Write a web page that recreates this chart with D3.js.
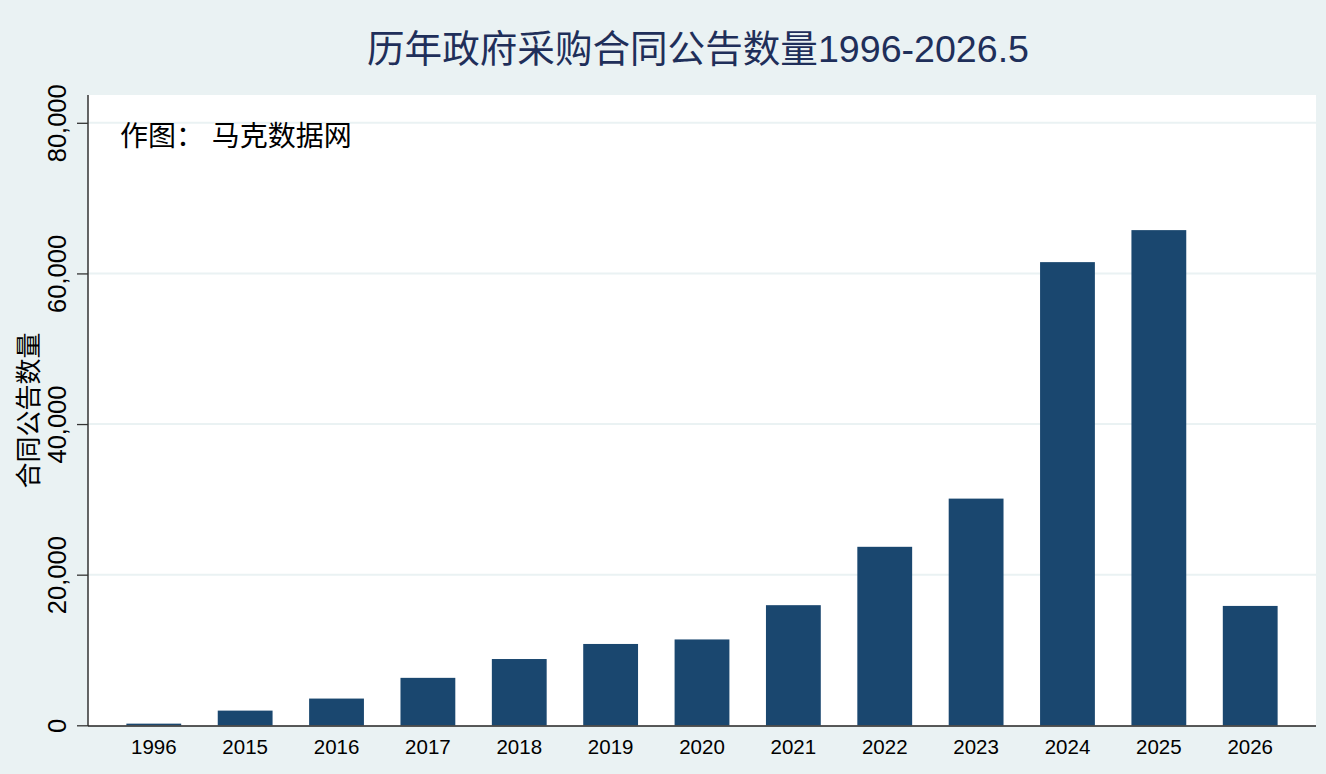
<!DOCTYPE html>
<html>
<head>
<meta charset="utf-8">
<script src="https://cdn.jsdelivr.net/npm/d3@7"></script>
<style>
  html, body { margin: 0; padding: 0; background: #eaf2f3; }
  svg { display: block; font-family: "Liberation Sans", Arial, "Noto Sans CJK SC", sans-serif; }
</style>
</head>
<body>
<div id="vis"></div>
<script>
// data
const YEARS = ["1996", "2015", "2016", "2017", "2018", "2019", "2020", "2021", "2022", "2023", "2024", "2025", "2026"];
const COUNTS = [220, 1950, 3550, 6300, 8800, 10800, 11400, 15950, 23700, 30100, 61500, 65750, 15850];
const Y_TICKS = [0, 20000, 40000, 60000, 80000];

const FRAME_WIDTH = 1326;
const FRAME_HEIGHT = 774;
const PLOT = {left: 88, right: 1316, top: 95, bottom: 726};

const FRAME = d3.select("#vis")
  .append("svg")
  .attr("width", FRAME_WIDTH)
  .attr("height", FRAME_HEIGHT);

// background
FRAME.append("rect")
  .attr("width", FRAME_WIDTH).attr("height", FRAME_HEIGHT)
  .attr("fill", "#eaf2f3");

FRAME.append("rect")
  .attr("x", PLOT.left).attr("y", PLOT.top)
  .attr("width", PLOT.right - PLOT.left).attr("height", PLOT.bottom - PLOT.top)
  .attr("fill", "#ffffff");

// scales
const X_SCALE = d3.scaleBand()
  .domain(YEARS)
  .range([PLOT.left, PLOT.right])
  .paddingInner(0.4)
  .paddingOuter(0.42);

const Y_SCALE = d3.scaleLinear()
  .domain([0, 80000])
  .range([PLOT.bottom - 0.7, 122.8]);

// gridlines
FRAME.append("g")
  .selectAll("line")
  .data(Y_TICKS.filter(d => d > 0))
  .enter().append("line")
  .attr("x1", PLOT.left).attr("x2", PLOT.right)
  .attr("y1", d => Y_SCALE(d)).attr("y2", d => Y_SCALE(d))
  .attr("stroke", "#eaf2f3")
  .attr("stroke-width", 2);

// bars
FRAME.append("g")
  .selectAll("rect")
  .data(YEARS)
  .enter().append("rect")
  .attr("x", d => X_SCALE(d))
  .attr("width", X_SCALE.bandwidth())
  .attr("y", (d, i) => Y_SCALE(COUNTS[i]))
  .attr("height", (d, i) => Y_SCALE(0) - Y_SCALE(COUNTS[i]))
  .attr("fill", "#1a476f");

// y axis
const yAxis = FRAME.append("g")
  .attr("transform", "translate(" + PLOT.left + ",0)")
  .call(d3.axisLeft(Y_SCALE).tickValues(Y_TICKS).tickSize(11).tickSizeOuter(0)
    .tickFormat(d3.format(",")));
yAxis.select(".domain").remove();
yAxis.selectAll(".tick line").attr("stroke", "#333").attr("stroke-width", 1.3);
yAxis.selectAll(".tick text")
  .attr("font-size", "25.5px")
  .attr("fill", "#000")
  .attr("transform", "rotate(-90)")
  .attr("x", 0)
  .attr("y", -22)
  .attr("dy", 0)
  .attr("text-anchor", "middle");

FRAME.append("line")
  .attr("x1", PLOT.left).attr("x2", PLOT.left)
  .attr("y1", PLOT.top).attr("y2", PLOT.bottom)
  .attr("stroke", "#333").attr("stroke-width", 1.5);

// x axis
const xAxis = FRAME.append("g")
  .attr("transform", "translate(0," + PLOT.bottom + ")")
  .call(d3.axisBottom(X_SCALE).tickSize(0));
xAxis.select(".domain").remove();
xAxis.selectAll(".tick text")
  .attr("font-size", "20.5px")
  .attr("y", 28)
  .attr("dy", 0)
  .attr("fill", "#000");

FRAME.append("line")
  .attr("x1", PLOT.left).attr("x2", PLOT.right)
  .attr("y1", PLOT.bottom).attr("y2", PLOT.bottom)
  .attr("stroke", "#222").attr("stroke-width", 1.5);

// y title
FRAME.append("text")
  .attr("transform", "translate(38," + ((PLOT.top + PLOT.bottom) / 2) + ") rotate(-90)")
  .attr("text-anchor", "middle")
  .attr("font-size", "26px")
  .attr("fill", "#000")
  .text("合同公告数量");

// title
FRAME.append("text")
  .attr("x", 698)
  .attr("y", 62)
  .attr("text-anchor", "middle")
  .attr("font-size", "37.6px")
  .attr("fill", "#1f2f5a")
  .text("历年政府采购合同公告数量1996-2026.5");

// note
FRAME.append("text")
  .attr("x", 120)
  .attr("y", 146)
  .attr("font-size", "28px")
  .attr("fill", "#000")
  .text("作图： 马克数据网");
</script>
</body>
</html>
